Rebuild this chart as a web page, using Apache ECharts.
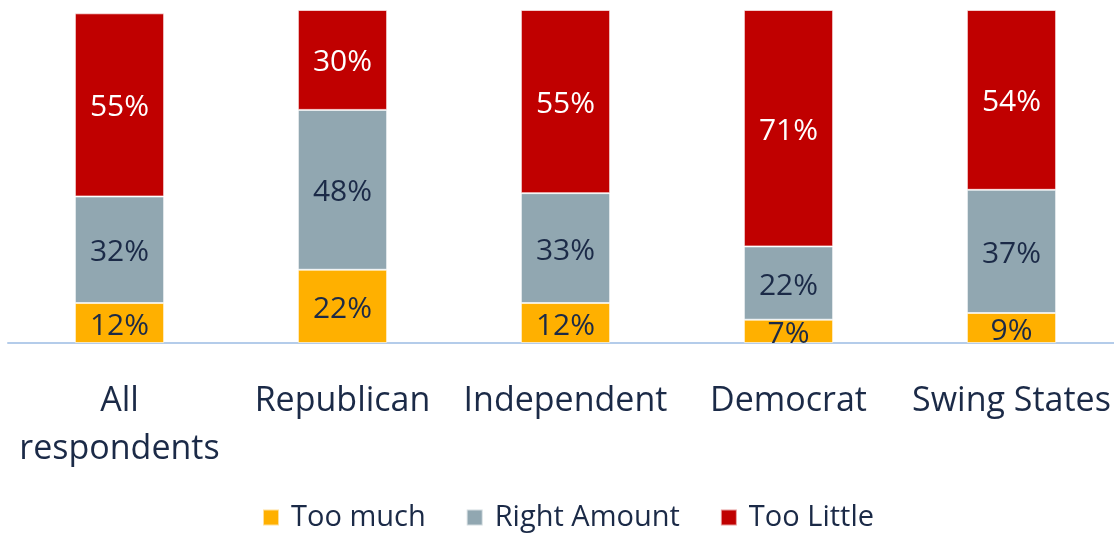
<!DOCTYPE html>
<html>
<head>
<meta charset="utf-8">
<script src="https://cdn.jsdelivr.net/npm/echarts@6/dist/echarts.min.js"></script>
<style>
  html, body { margin: 0; padding: 0; background: #ffffff; overflow: hidden; width: 1114px; height: 534px; }
  #chart { width: 1124px; height: 534px; }
</style>
</head>
<body>
<div id="chart"></div>
<script>
// Survey groups along the x axis
const categories = ['All\nrespondents', 'Republican', 'Independent', 'Democrat', 'Swing States'];

// Share of respondents per answer (percent)
const tooMuch = [12, 22, 12, 7, 9];
const rightAmount = [32, 48, 33, 22, 37];
const tooLittle = [55, 30, 55, 71, 54];

const seriesNames = ['Too much', 'Right Amount', 'Too Little'];
const seriesColors = ['#FFB000', '#91A7B1', '#C00000'];
const labelColors = ['#1B2A47', '#1B2A47', '#FFFFFF'];

const FONT = '"Open Sans", "Segoe UI", sans-serif';

function makeSeries(name, data, idx) {
  return {
    name: name,
    type: 'bar',
    stack: 'total',
    barWidth: '40%',
    data: data,
    itemStyle: {
      color: seriesColors[idx],
      borderColor: 'rgba(255,255,255,0.6)',
      borderWidth: 1
    },
    label: {
      show: true,
      position: 'inside',
      formatter: '{c}%',
      color: labelColors[idx],
      fontFamily: FONT,
      fontSize: 30,
      offset: [0, 3]
    }
  };
}

const chart = echarts.init(document.getElementById('chart'));
chart.setOption({
  animation: false,
  // plot area runs slightly past the right edge of the visible page
  grid: { left: 8, top: 10, right: 1, bottom: 191, containLabel: false },
  legend: {
    bottom: 2,
    left: 262,
    padding: 0,
    itemWidth: 16,
    itemHeight: 16,
    itemGap: 40,
    icon: 'rect',
    textStyle: { fontFamily: FONT, fontSize: 29, color: '#1B2A47', padding: [0, 0, 0, 7] },
    data: seriesNames
  },
  xAxis: {
    type: 'category',
    data: categories,
    axisLine: { lineStyle: { color: '#B4CCEA', width: 2 } },
    axisTick: { show: false },
    axisLabel: {
      margin: 34,
      fontFamily: FONT,
      fontSize: 34,
      lineHeight: 48,
      color: '#1B2A47',
      interval: 0
    }
  },
  yAxis: {
    type: 'value',
    min: 0,
    max: 100,
    show: false,
    splitLine: { show: false }
  },
  series: [
    makeSeries(seriesNames[0], tooMuch, 0),
    makeSeries(seriesNames[1], rightAmount, 1),
    makeSeries(seriesNames[2], tooLittle, 2)
  ]
});
</script>
</body>
</html>
